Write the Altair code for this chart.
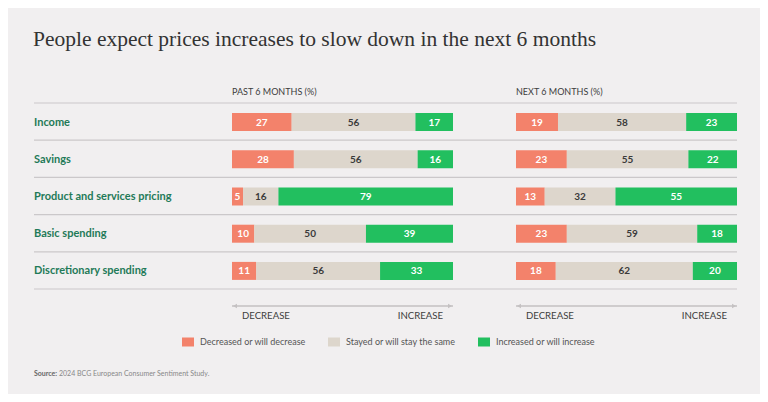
import altair as alt
import pandas as pd

# ---------------- data ----------------
categories = ["Income", "Savings", "Product and services pricing",
              "Basic spending", "Discretionary spending"]
panels = ["PAST 6 MONTHS (%)", "NEXT 6 MONTHS (%)"]
segments = ["Decreased or will decrease", "Stayed or will stay the same",
            "Increased or will increase"]

past_decrease = [27, 28, 5, 10, 11]
past_same = [56, 56, 16, 50, 56]
past_increase = [17, 16, 79, 39, 33]

next_decrease = [19, 23, 13, 23, 18]
next_same = [58, 55, 32, 59, 62]
next_increase = [23, 22, 55, 18, 20]

axis_words = ["DECREASE", "INCREASE"]
title_text = "People expect prices increases to slow down in the next 6 months"
source_label = "Source:"
source_text = "2024 BCG European Consumer Sentiment Study."

# ---------------- layout ----------------
PLOT_W, PLOT_H = 703, 186
PX = 2.21            # pixels per percentage point
LABEL_W = 198        # room for category labels
GAP = 63             # gap between the two panels
XMIN = -LABEL_W / PX
OFFSETS = [0, 100 + GAP / PX]
XMAX = OFFSETS[1] + 100

colors = ["#f3826b", "#ddd6cc", "#22bf5f"]
BG = "#f1eff0"
GREEN_TXT = "#1f7a58"
LINE = "#cbc8ca"

series = {
    panels[0]: [past_decrease, past_same, past_increase],
    panels[1]: [next_decrease, next_same, next_increase],
}

rows = []
for p_i, panel in enumerate(panels):
    vals = series[panel]
    for c_i, cat in enumerate(categories):
        total = sum(v[c_i] for v in vals)
        start = 0.0
        for s_i, seg in enumerate(segments):
            v = vals[s_i][c_i]
            w = v / total * 100
            rows.append(dict(panel=panel, category=cat, segment=seg, value=v,
                             x_start=OFFSETS[p_i] + start,
                             x_end=OFFSETS[p_i] + start + w,
                             x_mid=OFFSETS[p_i] + start + w / 2))
            start += w
bars_df = pd.DataFrame(rows)

panel_df = pd.DataFrame({"panel": panels, "offset": OFFSETS,
                         "end": [o + 100 for o in OFFSETS]})
cat_df = pd.DataFrame({"category": categories, "x0": XMIN, "x1": XMAX})
last_df = cat_df.iloc[[-1]]

xscale = alt.Scale(domain=[XMIN, XMAX], nice=False, zero=False)
yscale = alt.Scale(domain=categories, paddingInner=0, paddingOuter=0)

def X(f):
    return alt.X(f, scale=xscale, axis=None)

def Y(f, **kw):
    return alt.Y(f, scale=yscale, axis=None, **kw)

FONT = "Lato"

rules = alt.Chart(cat_df).mark_rule(color=LINE, strokeWidth=1.2).encode(
    x=X("x0:Q"), x2="x1:Q", y=Y("category:N", bandPosition=0))
rule_last = alt.Chart(last_df).mark_rule(color=LINE, strokeWidth=1.2).encode(
    x=X("x0:Q"), x2="x1:Q", y=Y("category:N", bandPosition=1))

bars = alt.Chart(bars_df).mark_bar(size=18, yOffset=0.5).encode(
    x=X("x_start:Q"), x2="x_end:Q", y=Y("category:N"),
    color=alt.Color("segment:N",
                    scale=alt.Scale(domain=segments, range=colors),
                    legend=alt.Legend(title=None, orient="none",
                                      legendX=148, legendY=233,
                                      direction="horizontal",
                                      symbolType="M-1,-0.75H1V0.75H-1Z",
                                      symbolSize=144, symbolStrokeWidth=0,
                                      symbolOpacity=1,
                                      labelFont=FONT, labelFontSize=9,
                                      labelColor="#555", labelOffset=6,
                                      columnPadding=22, padding=0)))

values = alt.Chart(bars_df).mark_text(font=FONT, fontWeight="bold",
                                      fontSize=10, baseline="middle",
                                      dy=1).encode(
    x=X("x_mid:Q"), y=Y("category:N"), text="value:Q",
    color=alt.condition(f"datum.segment == '{segments[1]}'",
                        alt.value("#3a3a3a"), alt.value("white")))

cat_labels = alt.Chart(cat_df).mark_text(font=FONT, fontWeight="bold",
                                         fontSize=11, align="left",
                                         baseline="middle", dy=1,
                                         color=GREEN_TXT).encode(
    x=X("x0:Q"), y=Y("category:N"), text="category:N")

headers = alt.Chart(panel_df).mark_text(font=FONT, fontSize=9, align="left",
                                        baseline="alphabetic",
                                        color="#3d3d3d").encode(
    x=X("offset:Q"), y=alt.value(-8), text="panel:N")

arrows = alt.Chart(panel_df).mark_rule(color="#cfcccd", strokeWidth=2).encode(
    x=X("offset:Q"), x2="end:Q", y=alt.value(203))
head_l = alt.Chart(panel_df).mark_point(shape="triangle-left", filled=True,
                                        size=22, opacity=1, color="#c4c1c2",
                                        xOffset=3).encode(
    x=X("offset:Q"), y=alt.value(203))
head_r = alt.Chart(panel_df).mark_point(shape="triangle-right", filled=True,
                                        size=22, opacity=1, color="#c4c1c2",
                                        xOffset=-3).encode(
    x=X("end:Q"), y=alt.value(203))

word_l = alt.Chart(panel_df).transform_calculate(w=f"'{axis_words[0]}'").mark_text(
    font=FONT, fontSize=9.6, align="left", dx=10, baseline="alphabetic",
    color="#3d3d3d").encode(x=X("offset:Q"), y=alt.value(216), text="w:N")
word_r = alt.Chart(panel_df).transform_calculate(w=f"'{axis_words[1]}'").mark_text(
    font=FONT, fontSize=9.6, align="right", dx=-10, baseline="alphabetic",
    color="#3d3d3d").encode(x=X("end:Q"), y=alt.value(216), text="w:N")

title = alt.Chart(pd.DataFrame({"t": [title_text]})).mark_text(
    font="Liberation Serif", fontSize=21.5, align="left", baseline="alphabetic",
    color="#333333").encode(x=alt.value(-1), y=alt.value(-57), text="t:N")

src1 = alt.Chart(pd.DataFrame({"t": [source_label]})).mark_text(
    font=FONT, fontSize=7, fontWeight="bold", align="left",
    baseline="alphabetic", color="#666").encode(
    x=alt.value(0), y=alt.value(273), text="t:N")
src2 = alt.Chart(pd.DataFrame({"t": [source_text]})).mark_text(
    font=FONT, fontSize=7, align="left", baseline="alphabetic",
    color="#888").encode(x=alt.value(25), y=alt.value(273), text="t:N")

chart = alt.layer(rules, rule_last, bars, values, cat_labels, headers, arrows,
                  head_l, head_r, word_l, word_r, title, src1, src2).properties(
    width=PLOT_W, height=PLOT_H,
    autosize=alt.AutoSizeParams(type="none"),
    padding={"left": 26, "top": 95, "right": 23, "bottom": 105},
    background=BG,
).configure_view(stroke=None)

chart.save("out.html", embed_options={"renderer": "svg", "actions": False})
